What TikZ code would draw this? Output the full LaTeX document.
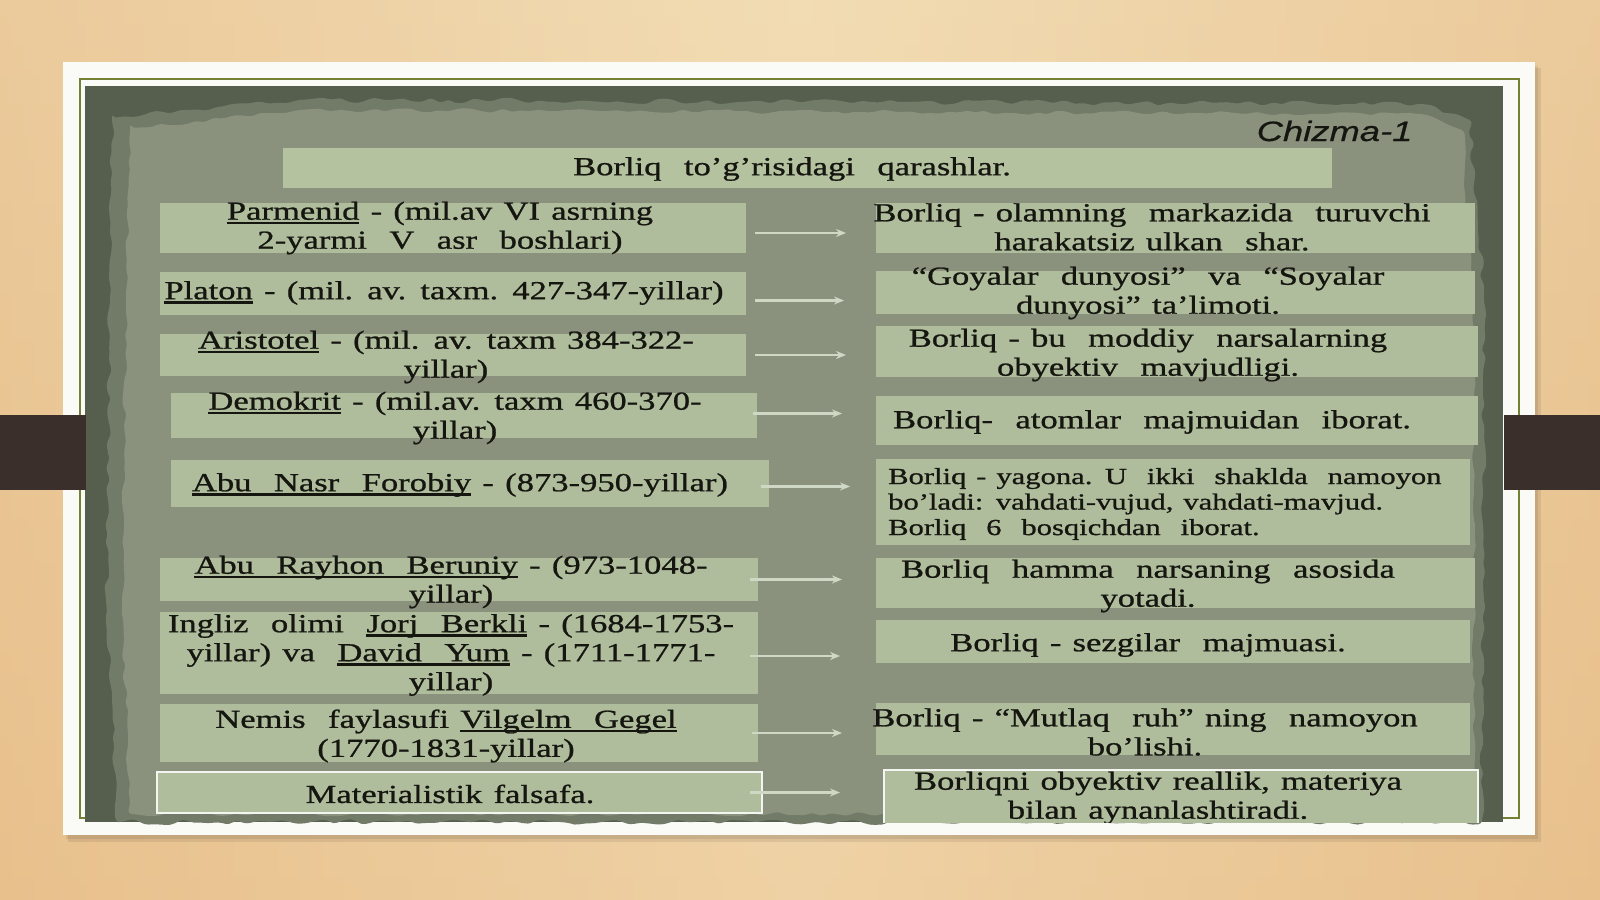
\documentclass[tikz,border=0pt]{standalone}
\usepackage{fontspec}
\setmainfont{Liberation Serif}[FakeStretch=1.33, WordSpace=1.3, FakeBold=0.9]
\newfontfamily\chizfont{Liberation Sans}[FakeStretch=1.3, FakeBold=0.6]
\usetikzlibrary{arrows.meta,decorations.pathmorphing,calc}
\definecolor{bgtop}{RGB}{242,220,180}
\definecolor{bgbot}{RGB}{236,200,150}
\definecolor{bgside}{RGB}{228,184,130}
\definecolor{framew}{RGB}{250,250,247}
\definecolor{oliveln}{RGB}{118,128,52}
\definecolor{panel}{RGB}{86,94,78}
\definecolor{parchA}{RGB}{114,122,104}
\definecolor{parchB}{RGB}{138,146,126}
\definecolor{boxc}{RGB}{176,189,157}
\definecolor{titlec}{RGB}{181,194,160}
\definecolor{ink}{RGB}{22,22,16}
\definecolor{arrc}{RGB}{206,216,196}
\definecolor{bandc}{RGB}{58,47,42}
\newcommand\undl[1]{\setbox0\hbox{#1}\rlap{\rule[-4.5pt]{\wd0}{2.4pt}}\box0\relax}
\begin{document}
\begin{tikzpicture}[x=1pt,y=-1pt,
  box/.style={fill=boxc, inner sep=0pt, outer sep=0pt},
  wbox/.style={box, draw=white!85!boxc, line width=1.6pt},
  txt/.style={text=ink, align=center, inner sep=0pt, font=\fontsize{26}{29}\selectfont},
  txts/.style={text=ink, align=left, inner sep=0pt, font=\fontsize{23}{25.5}\selectfont},
  arr/.style={draw=arrc, line width=2.2pt, -{Stealth[length=10pt,width=8pt]}}]
\pgfmathsetseed{7}
\useasboundingbox (0,0) rectangle (1600,899);
% wooden background
\shade[left color=bgside, right color=bgside, middle color=bgtop] (0,0) rectangle (1600,899);
\shade[top color=bgtop, bottom color=bgbot, opacity=0.5] (0,0) rectangle (1600,899);
% frame with soft shadow
\fill[black, opacity=0.08] (68,68) rectangle (1541,842);
\fill[black, opacity=0.08] (66,66) rectangle (1538,839);
\fill[framew] (63,62) rectangle (1535,835);
\draw[oliveln, line width=1.5pt] (80,79) rectangle (1519,818);
\fill[panel] (85,86) rectangle (1503,822);
% parchment
\fill[parchA, decorate, decoration={random steps, segment length=9pt, amplitude=3pt}, rounded corners=4pt]
  (112,118) -- (300,100) -- (900,102) -- (1420,104) -- (1470,120) -- (1484,300) -- (1482,822) -- (118,822) -- (106,600) -- (110,300) -- cycle;
\fill[parchB, decorate, decoration={random steps, segment length=9pt, amplitude=2.5pt}, rounded corners=4pt]
  (130,128) -- (300,110) -- (900,112) -- (1420,114) -- (1462,130) -- (1474,300) -- (1474,814) -- (130,814) -- (122,600) -- (126,300) -- cycle;
% side bands
\fill[bandc] (0,415) rectangle (86,490);
\fill[bandc] (1504,415) rectangle (1600,490);
% heading
\node[text=ink, font=\chizfont\itshape\fontsize{28}{30}\selectfont, anchor=east] (chz) at (1416,131) {Chizma-1};
\node[box, fill=titlec, minimum width=1049pt, minimum height=40pt] (title) at (807.5,168) {};
\node[txt] (ttitle) at (792,169) {Borliq\ \ to’g’risidagi\ \ qarashlar.};
% left boxes
\node[box, minimum width=586pt, minimum height=50pt] (l1) at (453,228) {};
\node[box, minimum width=586pt, minimum height=43pt] (l2) at (453,293.5) {};
\node[box, minimum width=586pt, minimum height=42pt] (l3) at (453,355) {};
\node[box, minimum width=586pt, minimum height=45pt] (l4) at (464,415.5) {};
\node[box, minimum width=598pt, minimum height=47pt] (l5) at (470,483.5) {};
\node[box, minimum width=598pt, minimum height=43pt] (l6) at (459,579.5) {};
\node[box, minimum width=598pt, minimum height=82pt] (l7) at (459,653) {};
\node[box, minimum width=598pt, minimum height=58pt] (l8) at (459,733) {};
\node[wbox, minimum width=605pt, minimum height=41pt] (l9) at (459.5,792.5) {};
\node[txt] (t1) at (440,228) {\undl{Parmenid} - (mil.av VI asrning\\2-yarmi\ \ V\ \ asr\ \ boshlari)};
\node[txt] (t2) at (444,293) {\undl{Platon} - (mil. av. taxm. 427-347-yillar)};
\node[txt] (t3) at (446,357) {\undl{Aristotel} - (mil. av. taxm 384-322-\\yillar)};
\node[txt] (t4) at (455,418) {\undl{Demokrit} - (mil.av. taxm 460-370-\\yillar)};
\node[txt] (t5) at (460,485) {\undl{Abu\ \ Nasr\ \ Forobiy} - (873-950-yillar)};
\node[txt] (t6) at (451,582) {\undl{Abu\ \ Rayhon\ \ Beruniy} - (973-1048-\\yillar)};
\node[txt] (t7) at (451,655) {Ingliz\ \ olimi\ \ \undl{Jorj\ \ Berkli} - (1684-1753-\\yillar) va\ \ \undl{David\ \ Yum} - (1711-1771-\\yillar)};
\node[txt] (t8) at (446,736) {Nemis\ \ faylasufi \undl{Vilgelm\ \ Gegel}\\(1770-1831-yillar)};
\node[txt] (t9) at (450,794) {Materialistik falsafa.};
% right boxes
\node[box, minimum width=599pt, minimum height=50pt] (r1) at (1175.5,228) {};
\node[box, minimum width=599pt, minimum height=43pt] (r2) at (1175.5,292.5) {};
\node[box, minimum width=602pt, minimum height=51pt] (r3) at (1177,351.5) {};
\node[box, minimum width=602pt, minimum height=49pt] (r4) at (1177,420.5) {};
\node[box, minimum width=594pt, minimum height=86pt] (r5) at (1173,502) {};
\node[box, minimum width=599pt, minimum height=50pt] (r6) at (1175.5,583) {};
\node[box, minimum width=594pt, minimum height=43pt] (r7) at (1173,641.5) {};
\node[box, minimum width=594pt, minimum height=52pt] (r8) at (1173,729) {};
\node[txt] (s1) at (1152,227) {Borliq - olamning\ \ markazida\ \ turuvchi\\harakatsiz ulkan\ \ shar.};
\node[txt] (s2) at (1148,293) {“Goyalar\ \ dunyosi”\ \ va\ \ “Soyalar\\dunyosi” ta’limoti.};
\node[txt] (s3) at (1148,355) {Borliq - bu\ \ moddiy\ \ narsalarning\\obyektiv\ \ mavjudligi.};
\node[txt] (s4) at (1152,422) {Borliq-\ \ atomlar\ \ majmuidan\ \ iborat.};
\node[txts, anchor=west] (s5) at (888,504) {Borliq - yagona. U\ \ ikki\ \ shaklda\ \ namoyon\\bo’ladi: vahdati-vujud, vahdati-mavjud.\\Borliq\ \ 6\ \ bosqichdan\ \ iborat.};
\node[txt] (s6) at (1148,586) {Borliq\ \ hamma\ \ narsaning\ \ asosida\\yotadi.};
\node[txt] (s7) at (1148,645) {Borliq - sezgilar\ \ majmuasi.};
\node[txt] (s8) at (1145,732) {Borliq - “Mutlaq\ \ ruh” ning\ \ namoyon\\bo’lishi.};
\begin{scope}
\clip (0,0) rectangle (1600,822);
\node[wbox, minimum width=594pt, minimum height=58pt] (r9) at (1181,799) {};
\node[txt] (s9) at (1158,798) {Borliqni obyektiv reallik, materiya\\bilan aynanlashtiradi.};
\end{scope}
% arrows
\draw[arr] ([xshift=9pt,yshift=-5pt]l1.east) -- ([xshift=-30pt,yshift=-5pt]l1.east -| r1.west);
\draw[arr] ([xshift=9pt,yshift=-7pt]l2.east) -- ([xshift=-32pt,yshift=-7pt]l2.east -| r2.west);
\draw[arr] ([xshift=9pt]l3.east) -- ([xshift=-30pt]l3.east -| r3.west);
\draw[arr] ([xshift=-4pt,yshift=2pt]l4.east) -- ([xshift=-34pt,yshift=2pt]l4.east -| r4.west);
\draw[arr] ([xshift=-8pt,yshift=-3pt]l5.east) -- ([xshift=-26pt,yshift=-3pt]l5.east -| r5.west);
\draw[arr] ([xshift=-8pt]l6.east) -- ([xshift=-34pt]l6.east -| r6.west);
\draw[arr] ([xshift=-8pt,yshift=-3pt]l7.east) -- ([xshift=-36pt,yshift=-3pt]l7.east -| r7.west);
\draw[arr] ([xshift=-6pt]l8.east) -- ([xshift=-34pt]l8.east -| r8.west);
\draw[arr] ([xshift=-12pt]l9.east) -- ([xshift=-44pt]l9.east -| r9.west);
\end{tikzpicture}
\end{document}
